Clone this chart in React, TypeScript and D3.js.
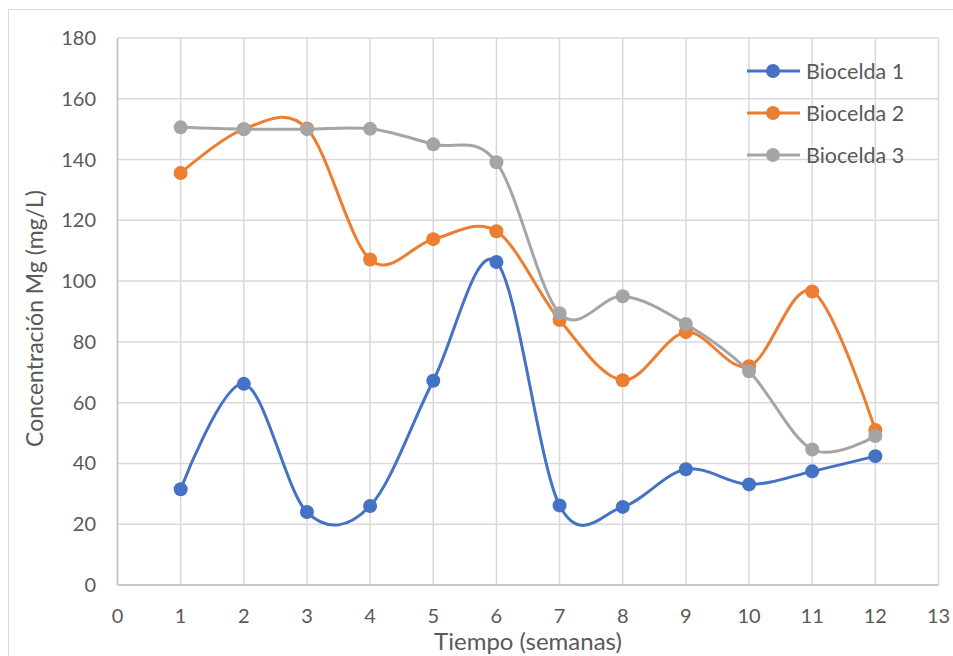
import React from "react";
import * as d3 from "d3";

const weeks = [1, 2, 3, 4, 5, 6, 7, 8, 9, 10, 11, 12];
const bio1 = [31.5, 66.2, 24, 26, 67.2, 106.3, 26.2, 25.7, 38.1, 33.1, 37.4, 42.4];
const bio2 = [135.6, 150, 150.2, 107.1, 113.8, 116.4, 87.2, 67.4, 83.2, 72, 96.6, 51];
const bio3 = [150.6, 150, 150, 150.1, 145, 139.1, 89.4, 95, 85.9, 70.3, 44.6, 49];
const seriesNames = ["Biocelda 1", "Biocelda 2", "Biocelda 3"];
const colors = ["#4472C4", "#ED7D31", "#A5A5A5"];
const xTicks = d3.range(0, 14);
const yTicks = d3.range(0, 181, 20);

export default function App() {
  const W = 953, H = 656;
  const left = 117.5, right = 938.5, top = 38, bottom = 585;
  const x = d3.scaleLinear().domain([0, 13]).range([left, right]);
  const y = d3.scaleLinear().domain([0, 180]).range([bottom, top]);
  const line = d3
    .line<[number, number]>()
    .x((d) => x(d[0]))
    .y((d) => y(d[1]))
    .curve(d3.curveCardinal.tension(0));
  const data = [bio1, bio2, bio3];
  const font = "Lato, 'Open Sans', sans-serif";
  return (
    <svg
      width={W}
      height={H}
      style={{ position: "absolute", left: 0, top: 0, background: "#fff" }}
      fontFamily={font}
    >
      <rect x={0} y={0} width={W} height={H} fill="#fff" />
      <rect x={8.5} y={9.5} width={W + 10} height={H + 10} fill="none" stroke="#d9d9d9" strokeWidth={1} />
      {yTicks.map((t) => (
        <line key={"gy" + t} x1={left} x2={right} y1={y(t)} y2={y(t)} stroke="#d9d9d9" strokeWidth={1.5} />
      ))}
      {xTicks.map((t) => (
        <line key={"gx" + t} x1={x(t)} x2={x(t)} y1={top} y2={bottom} stroke="#d9d9d9" strokeWidth={1.5} />
      ))}
      <line x1={left} x2={right} y1={bottom} y2={bottom} stroke="#bfbfbf" strokeWidth={1.5} />
      <line x1={left} x2={left} y1={top} y2={bottom} stroke="#bfbfbf" strokeWidth={1.5} />
      {yTicks.map((t) => (
        <text key={"ty" + t} x={96} y={y(t)} dy="0.35em" textAnchor="end" fontSize={20} fill="#595959">
          {t}
        </text>
      ))}
      {xTicks.map((t) => (
        <text key={"tx" + t} x={x(t)} y={616} dy="0.35em" textAnchor="middle" fontSize={20} fill="#595959">
          {t}
        </text>
      ))}
      <text x={528} y={642} dy="0.35em" textAnchor="middle" fontSize={24} fill="#595959">
        Tiempo (semanas)
      </text>
      <text
        transform={`translate(35,${(top + bottom) / 2 + 7}) rotate(-90)`}
        dy="0.35em"
        textAnchor="middle"
        fontSize={23}
        fill="#595959"
      >
        Concentración Mg (mg/L)
      </text>
      {data.map((vals, i) => {
        const pts = weeks.map((w, j) => [w, vals[j]] as [number, number]);
        return (
          <g key={"s" + i}>
            <path d={line(pts) || ""} fill="none" stroke={colors[i]} strokeWidth={3} strokeLinecap="round" />
            {pts.map((p, j) => (
              <circle key={j} cx={x(p[0])} cy={y(p[1])} r={7} fill={colors[i]} />
            ))}
          </g>
        );
      })}
      {seriesNames.map((n, i) => {
        const ly = 71 + i * 42;
        return (
          <g key={"l" + i}>
            <line x1={747} x2={800} y1={ly} y2={ly} stroke={colors[i]} strokeWidth={3} />
            <circle cx={773} cy={ly} r={7} fill={colors[i]} />
            <text x={806} y={ly} dy="0.35em" fontSize={21.5} fill="#595959">
              {n}
            </text>
          </g>
        );
      })}
    </svg>
  );
}
